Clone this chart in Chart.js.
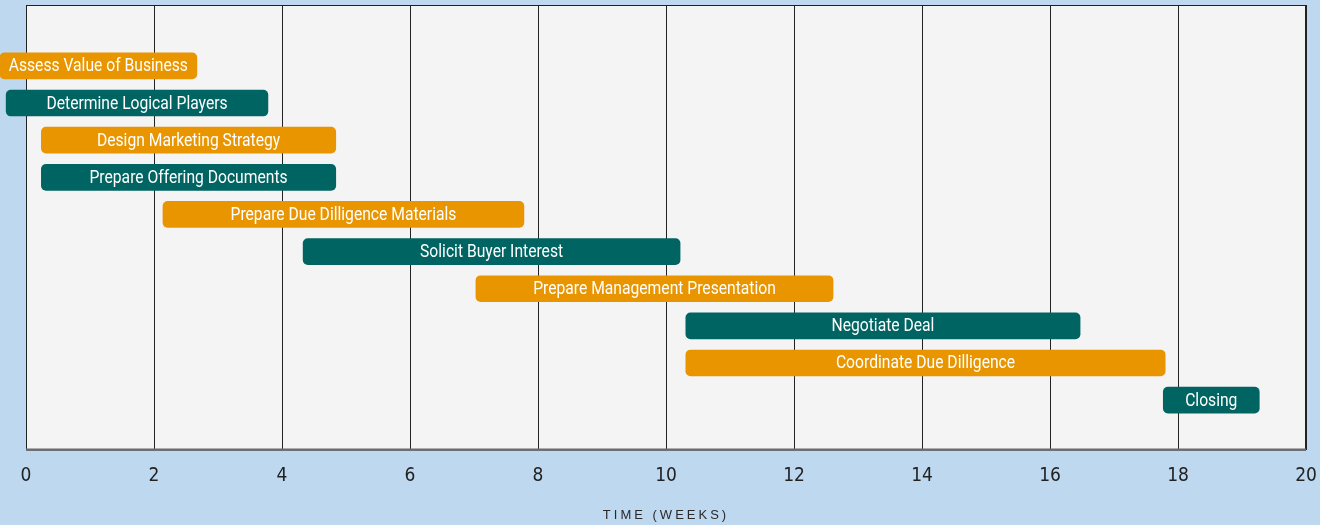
<!DOCTYPE html>
<html>
<head>
<meta charset="utf-8">
<script src="https://cdn.jsdelivr.net/npm/chart.js@4/dist/chart.umd.min.js"></script>
<style>
  html, body { margin: 0; padding: 0; background: #bdd8ef; }
  #wrap { width: 1320px; height: 525px; }
</style>
</head>
<body>
<div id="wrap"><canvas id="myChart"></canvas></div>
<script>
const tasks = ['Assess Value of Business', 'Determine Logical Players', 'Design Marketing Strategy',
  'Prepare Offering Documents', 'Prepare Due Dilligence Materials', 'Solicit Buyer Interest',
  'Prepare Management Presentation', 'Negotiate Deal', 'Coordinate Due Dilligence', 'Closing'];
const startWeeks = [-0.41, -0.31, 0.24, 0.24, 2.14, 4.33, 7.03, 10.31, 10.31, 17.77];
const endWeeks = [2.67, 3.78, 4.84, 4.84, 7.78, 10.22, 12.61, 16.47, 17.8, 19.27];
const xTicks = [0, 2, 4, 6, 8, 10, 12, 14, 16, 18, 20];

const orange = '#e89500';
const teal = '#006462';

const points = tasks.map((t, i) => ({ x: [startWeeks[i], endWeeks[i]], y: i }));

const bgPlugin = {
  id: 'bg',
  beforeDraw(chart) {
    const { ctx, chartArea: a } = chart;
    ctx.save();
    ctx.fillStyle = '#f4f4f4';
    ctx.fillRect(a.left, a.top, a.right - a.left, a.bottom - a.top);
    ctx.restore();
  },
  beforeDatasetsDraw(chart) {
    const { ctx, chartArea: a } = chart;
    ctx.save();
    ctx.strokeStyle = '#222222';
    ctx.lineWidth = 1;
    ctx.strokeRect(a.left + 0.5, a.top + 0.5, a.right - a.left - 1, a.bottom - a.top);
    ctx.strokeStyle = '#6b6b6b';
    ctx.lineWidth = 2;
    ctx.beginPath();
    ctx.moveTo(a.left, a.bottom);
    ctx.lineTo(a.right, a.bottom);
    ctx.stroke();
    ctx.restore();
  }
};

const labelPlugin = {
  id: 'barLabels',
  afterDatasetsDraw(chart) {
    const { ctx } = chart;
    const meta = chart.getDatasetMeta(0);
    ctx.save();
    ctx.fillStyle = '#ffffff';
    ctx.font = '18px Roboto, "DejaVu Sans Condensed", sans-serif';
    ctx.textAlign = 'center';
    ctx.textBaseline = 'middle';
    meta.data.forEach((bar, i) => {
      const cx = (bar.x + bar.base) / 2;
      ctx.save();
      ctx.translate(cx, bar.y + 1);
      ctx.scale(0.87, 1);
      ctx.fillText(tasks[i], 0, 0);
      ctx.restore();
    });
    ctx.restore();
  }
};

const titlePlugin = {
  id: 'axisTitle',
  afterDraw(chart) {
    const { ctx } = chart;
    ctx.save();
    ctx.fillStyle = '#2a2a2a';
    ctx.font = '13px "Liberation Sans", Arial, sans-serif';
    ctx.letterSpacing = '3px';
    ctx.textAlign = 'center';
    ctx.textBaseline = 'middle';
    ctx.fillText('TIME (WEEKS)', 666, 515);
    ctx.restore();
  }
};

const ctx = document.getElementById('myChart').getContext('2d');
const myChart = new Chart(ctx, {
  type: 'bar',
  data: {
    datasets: [{
      data: points,
      backgroundColor: tasks.map((t, i) => i % 2 === 0 ? orange : teal),
      borderRadius: 5,
      borderSkipped: false,
      barThickness: 26,
      clip: false
    }]
  },
  options: {
    indexAxis: 'y',
    responsive: true,
    maintainAspectRatio: false,
    animation: false,
    layout: { padding: { left: 26, right: 14, top: 5, bottom: 0 } },
    scales: {
      x: {
        type: 'linear',
        min: 0,
        max: 20,
        afterBuildTicks(scale) {
          scale.ticks = xTicks.map(v => ({ value: v }));
        },
        afterFit(scale) {
          scale.height = 75.5;
          scale.paddingLeft = 0;
          scale.paddingRight = 0;
        },
        grid: {
          color: '#222222',
          lineWidth: 1,
          drawTicks: false
        },
        border: { display: false },
        ticks: {
          padding: 15,
          color: '#222222',
          font: { family: '"DejaVu Sans Condensed", sans-serif', size: 19 }
        }
      },
      y: {
        type: 'linear',
        reverse: true,
        offset: false,
        min: -1.64,
        max: 10.33,
        grid: { display: false },
        border: { display: false },
        ticks: { display: false },
        afterFit(scale) {
          scale.width = 0;
        }
      }
    },
    plugins: {
      legend: { display: false },
      tooltip: { enabled: false }
    }
  },
  plugins: [bgPlugin, labelPlugin, titlePlugin]
});
</script>
</body>
</html>
